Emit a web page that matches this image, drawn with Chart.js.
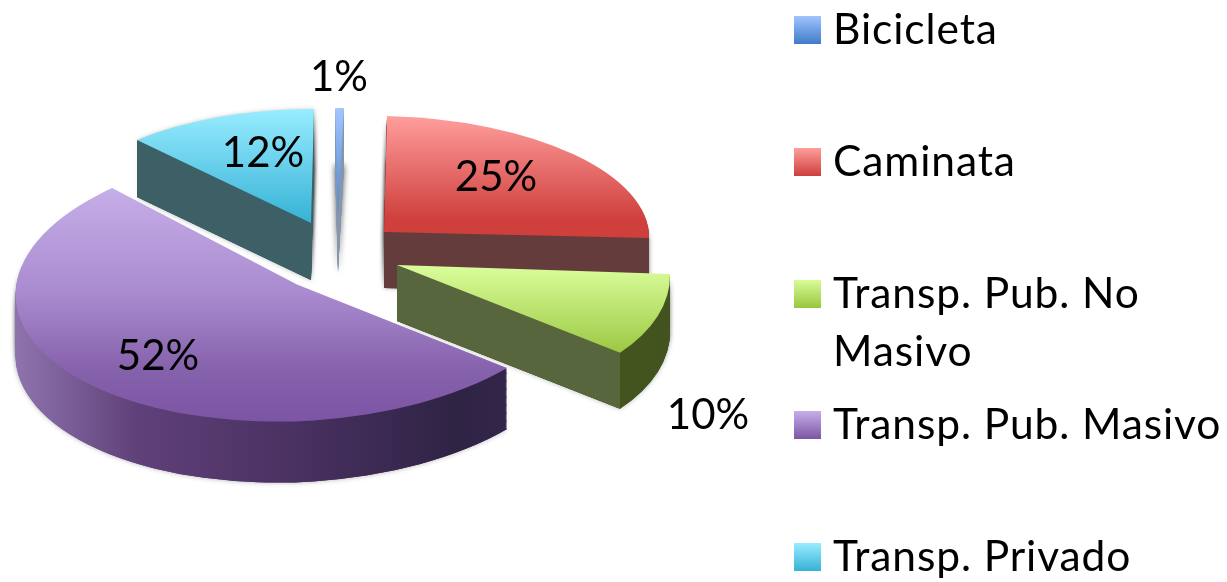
<!DOCTYPE html>
<html>
<head>
<meta charset="utf-8">
<style>html,body{margin:0;padding:0;background:#fff}#w{width:1227px;height:582px}</style>
<script src="https://cdn.jsdelivr.net/npm/chart.js@4/dist/chart.umd.min.js"></script>
</head>
<body>
<div id="w"><canvas id="c" width="1227" height="582"></canvas></div>
<script>
const categories = ['Bicicleta', 'Caminata', 'Transp. Pub. No Masivo', 'Transp. Pub. Masivo', 'Transp. Privado'];
const shares = [1, 25, 10, 52, 12];
const baseColors = ['#6f9fe4', '#e06a68', '#bfe46c', '#a07fc8', '#62cfe8'];

/* styling / projection of each exploded slice */
const topStops = [
  [[0,'#a4c6ff'],[1,'#4a86d0']],
  [[0,'#ff9e9c'],[.85,'#cf3f3c'],[1,'#cf3f3c']],
  [[0,'#d8fc98'],[1,'#9cc844']],
  [[0,'#c6aee8'],[.45,'#a98bcf'],[.78,'#8662ac'],[1,'#7c55a5']],
  [[0,'#98ecff'],[1,'#36b2d6']]
];
const swatchStops = [
  [[0,'#a0c4ff'],[1,'#3f7cc8']],
  [[0,'#ff9e9c'],[1,'#cc3f3c']],
  [[0,'#d8fc98'],[1,'#98c63e']],
  [[0,'#c6aee8'],[1,'#7c55a5']],
  [[0,'#98ecff'],[1,'#36b2d6']]
];
const poses = [
  {m:[143,0,-6,107],   c:[338,215],   depth:57, top:[108,215], wall:[[0,'#8e9db0'],[1,'#7d8ea8']], face:null, fc:null, blur:6, shade:.7, shadeMin:50},
  {m:[265,6,-3,116],   c:[384,232],   depth:56, top:[116,238], wall:[[0,'#643c3c'],[1,'#643c3c']], face:'end', fc:'#643c3c', blur:5, shade:.3, shadeMin:0},
  {m:[273,9,3.6,137],  c:[397,265],   depth:56, top:[268,353], wall:[[0,'#50601f'],[1,'#42531f']], face:'end', fc:'#57663c', blur:5, shade:.3, shadeMin:0},
  {m:[280,3.6,-28,137],c:[297,284.5], depth:61, top:[188,420], wall:[[0,'#8e74ad'],[.25,'#604079'],[.6,'#47305f'],[.9,'#2f2344'],[1,'#32254a']], face:null, fc:null, wx:[15,505], blur:5, shade:.3, shadeMin:0},
  {m:[256.7,6.9,-19.2,113.8], c:[311,223], depth:57, top:[109,223], wall:[[0,'#3d5f66'],[1,'#3d5f66']], face:'start', fc:'#3d5f66', blur:5, shade:.3, shadeMin:0}
];
const drawOrder = [4, 0, 1, 2, 3];
const labelPos = [[339,77],[496,177],[708,415],[158,356],[263,153]];
const legendRows = [[30],[162],[294,352],[425],[557]];
const legendLines = [['Bicicleta'],['Caminata'],['Transp. Pub. No','Masivo'],['Transp. Pub. Masivo'],['Transp. Privado']];
const LABEL_FONT = '42px Lato, Carlito, sans-serif';
const LEGEND_FONT = '42.5px Lato, Carlito, sans-serif';

function gradFor(ctx, el, r, row, base, v0, v1, stops) {
  const rx = row[0]/r, ry = row[1]/r, n = rx*rx + ry*ry;
  const g = ctx.createLinearGradient(
    el.x + rx*(v0-base)/n, el.y + ry*(v0-base)/n,
    el.x + rx*(v1-base)/n, el.y + ry*(v1-base)/n);
  stops.forEach(s => g.addColorStop(s[0], s[1]));
  return g;
}
function drawWith(el, ctx, fill) {
  const saved = el.options;
  el.options = {backgroundColor: fill, borderColor:'transparent', borderWidth:0, borderAlign:'center',
    borderDash:[], borderDashOffset:0, borderJoinStyle:'round', spacing:0, offset:0, borderRadius:0, circular:true};
  el.draw(ctx);
  el.options = saved;
}
const slice3d = {
  id: 'slice3d',
  beforeDatasetsDraw(chart) {
    const ctx = chart.ctx, arcs = chart.getDatasetMeta(0).data;
    drawOrder.forEach(i => {
      const el = arcs[i], p = poses[i], r = el.outerRadius, [a,b,c,d] = p.m;
      const place = dy => {
        ctx.translate(p.c[0], p.c[1] + dy);
        ctx.transform(a/r, b/r, c/r, d/r, 0, 0);
        ctx.translate(-el.x, -el.y);
      };
      const xs = p.wx || [p.c[0]-Math.abs(a), p.c[0]+Math.abs(a)];
      const wallFill = gradFor(ctx, el, r, [a,c], p.c[0], xs[0], xs[1], p.wall);
      /* soft shadow */
      for (let dy = p.depth; dy > p.shadeMin; dy -= 8) {
        ctx.save();
        ctx.shadowColor = 'rgba(0,0,0,' + p.shade + ')'; ctx.shadowBlur = p.blur;
        place(dy); drawWith(el, ctx, wallFill);
        ctx.restore();
      }
      /* extruded body */
      for (let dy = p.depth; dy > 0; dy--) {
        ctx.save(); place(dy); drawWith(el, ctx, wallFill); ctx.restore();
      }
      /* flat cut face */
      if (p.face) {
        const ang = p.face === 'start' ? el.startAngle : el.endAngle;
        const ux = Math.cos(ang), uy = Math.sin(ang);
        const ex = p.c[0] + a*ux + c*uy, ey = p.c[1] + b*ux + d*uy;
        ctx.save();
        ctx.fillStyle = p.fc;
        ctx.beginPath();
        ctx.moveTo(p.c[0], p.c[1]);
        ctx.lineTo(ex, ey);
        ctx.lineTo(ex, ey + p.depth);
        ctx.lineTo(p.c[0], p.c[1] + p.depth);
        ctx.closePath(); ctx.fill();
        ctx.restore();
      }
      /* top surface */
      ctx.save();
      place(0);
      drawWith(el, ctx, gradFor(ctx, el, r, [b,d], p.c[1], p.top[0], p.top[1], topStops[i]));
      ctx.restore();
    });
    return false;
  },
  afterDraw(chart) {
    const ctx = chart.ctx;
    ctx.save();
    ctx.font = LABEL_FONT; ctx.fillStyle = '#000'; ctx.textBaseline = 'middle';
    ctx.textAlign = 'center';
    shares.forEach((v, i) => ctx.fillText(v + '%', labelPos[i][0], labelPos[i][1]));
    ctx.textAlign = 'left';
    ctx.font = LEGEND_FONT;
    ctx.letterSpacing = '0.9px';
    categories.forEach((name, i) => {
      const y0 = legendRows[i][0];
      const g = ctx.createLinearGradient(0, y0-14, 0, y0+14);
      swatchStops[i].forEach(s => g.addColorStop(s[0], s[1]));
      ctx.fillStyle = g;
      ctx.fillRect(794, y0-14, 27, 28);
      ctx.fillStyle = '#000';
      legendLines[i].forEach((line, k) => ctx.fillText(line, 833, legendRows[i][k]));
    });
    ctx.restore();
  }
};
new Chart(document.getElementById('c'), {
  type: 'pie',
  data: { labels: categories, datasets: [{ data: shares, backgroundColor: baseColors, borderWidth: 0, rotation: -3.6 }] },
  options: {
    responsive: false, animation: false,
    layout: { padding: 0 },
    plugins: { legend: { display: false }, tooltip: { enabled: false } }
  },
  plugins: [slice3d]
});
</script>
</body>
</html>
